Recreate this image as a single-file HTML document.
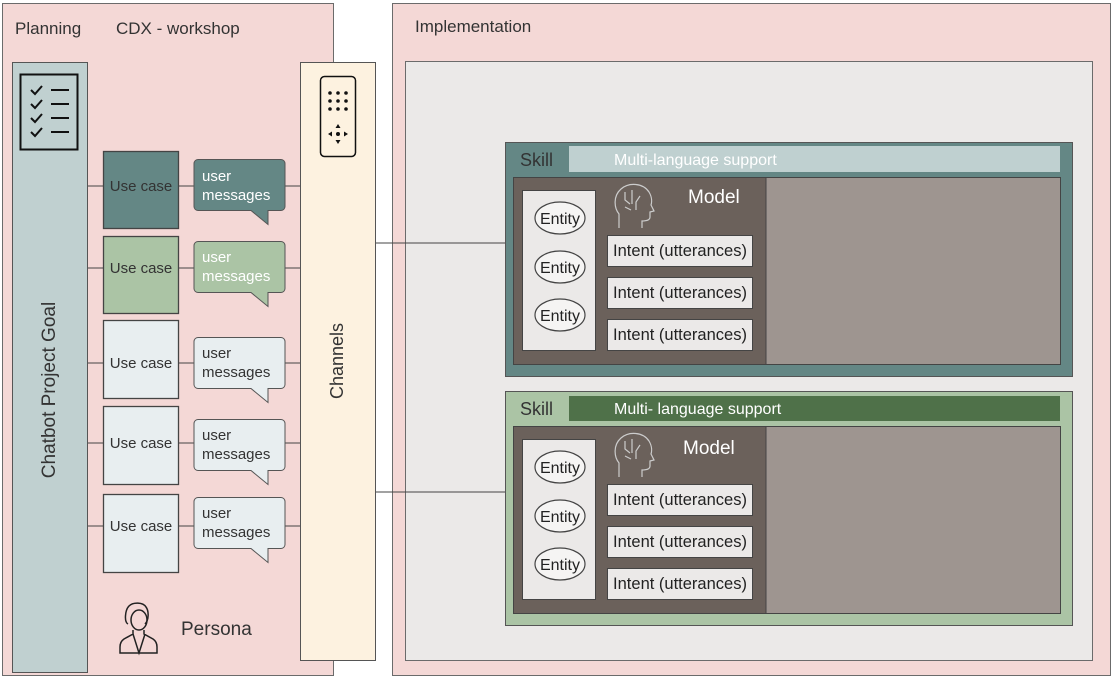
<!DOCTYPE html>
<html><head><meta charset="utf-8"><style>
html,body{margin:0;padding:0;background:#fff;}
svg{display:block;font-family:"Liberation Sans",sans-serif;}
</style></head><body>
<svg width="1116" height="679" viewBox="0 0 1116 679" xmlns="http://www.w3.org/2000/svg">
<rect x="2.5" y="3.5" width="331" height="672" fill="#f4d8d6" stroke="#6b6b6b"/>
<rect x="392.5" y="3.5" width="718" height="672" fill="#f4d8d6" stroke="#6b6b6b"/>
<rect x="405.5" y="61.5" width="687" height="599" fill="#ebe9e8" stroke="#6b6b6b"/>
<text x="15" y="34" font-size="17" fill="#333">Planning</text>
<text x="116" y="34" font-size="17" fill="#333">CDX - workshop</text>
<text x="415" y="32" font-size="17" fill="#333">Implementation</text>

<rect x="12.5" y="62.5" width="75" height="610" fill="#c0d0d0" stroke="#555"/>
<rect x="20.5" y="74.5" width="57" height="75" fill="#c0d0d0" stroke="#111" stroke-width="2"/>
<g stroke="#111" stroke-width="2" fill="none">
<path d="M31 90l4 4 7-8M31 104l4 4 7-8M31 118l4 4 7-8M31 132l4 4 7-8"/>
<path d="M51 90h18M51 104h18M51 118h18M51 132h18"/>
</g>
<text transform="translate(55 390) rotate(-90)" text-anchor="middle" font-size="19" fill="#333">Chatbot Project Goal</text>

<rect x="300.5" y="62.5" width="75" height="598" fill="#fdf2e0" stroke="#555"/>
<rect x="320.5" y="76.5" width="35" height="80" rx="4" fill="#fdf2e0" stroke="#111" stroke-width="1.5"/>
<g fill="#111">
<circle cx="330" cy="93" r="1.8"/><circle cx="338" cy="93" r="1.8"/><circle cx="346" cy="93" r="1.8"/>
<circle cx="330" cy="101" r="1.8"/><circle cx="338" cy="101" r="1.8"/><circle cx="346" cy="101" r="1.8"/>
<circle cx="330" cy="109" r="1.8"/><circle cx="338" cy="109" r="1.8"/><circle cx="346" cy="109" r="1.8"/>
<circle cx="338" cy="134" r="2"/>
<path d="M338 124l-2.5 4h5zM338 144l-2.5-4h5zM328 134l4-2.5v5zM348 134l-4-2.5v5z"/>
</g>
<text transform="translate(343 361) rotate(-90)" text-anchor="middle" font-size="18" fill="#333">Channels</text>

<g stroke="#444" stroke-width="1">
<path d="M88 186H103M179 186H194M285 186H300"/>
<path d="M88 268H103M179 268H194M285 268H300"/>
<path d="M88 363H103M179 363H194M285 363H300"/>
<path d="M88 443H103M179 443H194M285 443H300"/>
<path d="M88 526H103M179 526H194M285 526H300"/>
<path d="M376 243H513M376 492H513"/>
</g>
<g stroke="#444" stroke-width="1.3">
<rect x="103.5" y="151.5" width="75" height="77" fill="#648785"/>
<rect x="103.5" y="236.5" width="75" height="77" fill="#abc4a5"/>
<rect x="103.5" y="320.5" width="75" height="78" fill="#e8eef0"/>
<rect x="103.5" y="406.5" width="75" height="78" fill="#e8eef0"/>
<rect x="103.5" y="494.5" width="75" height="78" fill="#e8eef0"/>
</g>
<g font-size="15" fill="#333" text-anchor="middle">
<text x="141" y="191">Use case</text>
<text x="141" y="273">Use case</text>
<text x="141" y="368">Use case</text>
<text x="141" y="448">Use case</text>
<text x="141" y="531">Use case</text>
</g>
<g stroke="#555" stroke-width="1">
<path d="M198 159.5h83a4 4 0 0 1 4 4v43a4 4 0 0 1-4 4h-13v14l-17-14h-53a4 4 0 0 1-4-4v-43a4 4 0 0 1 4-4z" fill="#648785"/>
<path d="M198 241.5h83a4 4 0 0 1 4 4v43a4 4 0 0 1-4 4h-13v14l-17-14h-53a4 4 0 0 1-4-4v-43a4 4 0 0 1 4-4z" fill="#abc4a5"/>
<path d="M198 337.5h83a4 4 0 0 1 4 4v43a4 4 0 0 1-4 4h-13v14l-17-14h-53a4 4 0 0 1-4-4v-43a4 4 0 0 1 4-4z" fill="#e8eef0"/>
<path d="M198 419.5h83a4 4 0 0 1 4 4v43a4 4 0 0 1-4 4h-13v14l-17-14h-53a4 4 0 0 1-4-4v-43a4 4 0 0 1 4-4z" fill="#e8eef0"/>
<path d="M198 497.5h83a4 4 0 0 1 4 4v43a4 4 0 0 1-4 4h-13v14l-17-14h-53a4 4 0 0 1-4-4v-43a4 4 0 0 1 4-4z" fill="#e8eef0"/>
</g>
<g font-size="15">
<text x="202" y="181" fill="#fff">user</text><text x="202" y="200" fill="#fff">messages</text>
<text x="202" y="262" fill="#fff">user</text><text x="202" y="281" fill="#fff">messages</text>
<text x="202" y="358" fill="#333">user</text><text x="202" y="377" fill="#333">messages</text>
<text x="202" y="440" fill="#333">user</text><text x="202" y="459" fill="#333">messages</text>
<text x="202" y="518" fill="#333">user</text><text x="202" y="537" fill="#333">messages</text>
</g>

<g stroke="#222" stroke-width="1.5" fill="none">
<path d="M128 624c-4-2-3-14 1-18 4-4 14-4 17 1 3 4 3 13-1 17"/>
<ellipse cx="139" cy="620" rx="8" ry="10"/>
<path d="M133 630v4l-9 5c-3 2-4 5-4 8v6h37v-6c0-3-1-6-4-8l-9-5v-4"/>
<path d="M133 634l6 19 6-19"/>
</g>
<text x="181" y="635" font-size="19" fill="#333">Persona</text>

<rect x="505.5" y="142.5" width="567" height="234" fill="#648785" stroke="#555"/>
<text x="520" y="166" font-size="18" fill="#333">Skill</text>
<rect x="569" y="146" width="491" height="26" fill="#bfd0d0"/>
<text x="614" y="165" font-size="16" fill="#fff">Multi-language support</text>
<rect x="513.5" y="177.5" width="547" height="187" fill="#6b615b" stroke="#444"/>
<rect x="766" y="178" width="294" height="186" fill="#9e9590"/>
<line x1="766" y1="178" x2="766" y2="364" stroke="#444"/>
<text x="688" y="203" font-size="19" fill="#fff">Model</text>
<rect x="522.5" y="190.5" width="73" height="160" fill="#ebe9e8" stroke="#444"/>
<g fill="#f5f4f3" stroke="#444" stroke-width="1.2">
<ellipse cx="560" cy="218" rx="25" ry="16"/><ellipse cx="560" cy="267" rx="25" ry="16"/><ellipse cx="560" cy="315" rx="25" ry="16"/>
</g>
<g font-size="16" fill="#222" text-anchor="middle">
<text x="560" y="224">Entity</text><text x="560" y="273">Entity</text><text x="560" y="321">Entity</text>
</g>
<g fill="#ebe9e8" stroke="#444"><rect x="607.5" y="235.5" width="145" height="31"/><rect x="607.5" y="277.5" width="145" height="31"/><rect x="607.5" y="319.5" width="145" height="31"/></g>
<g font-size="16.5" fill="#222" text-anchor="middle"><text x="680" y="256">Intent (utterances)</text><text x="680" y="298">Intent (utterances)</text><text x="680" y="340">Intent (utterances)</text></g>
<g stroke="#ccc" stroke-width="1.2" fill="none">
<path d="M619 228v-14c-5-6-6-18 2-25 8-7 22-6 28 3 3 5 3 10 2 13l3 6-4 1v5c0 3-3 4-8 4v7"/>
<path d="M625 192v8l5 4M632 190v14M640 196l-4 6v8M625 207l6 3"/>
</g>

<rect x="505.5" y="391.5" width="567" height="234" fill="#abc4a5" stroke="#555"/>
<text x="520" y="415" font-size="18" fill="#333">Skill</text>
<rect x="569" y="396" width="491" height="25" fill="#4f7149"/>
<text x="614" y="414" font-size="16" fill="#fff">Multi- language support</text>
<rect x="513.5" y="426.5" width="547" height="187" fill="#6b615b" stroke="#444"/>
<rect x="766" y="427" width="294" height="186" fill="#9e9590"/>
<line x1="766" y1="427" x2="766" y2="613" stroke="#444"/>
<text x="683" y="454" font-size="19" fill="#fff">Model</text>
<rect x="522.5" y="439.5" width="73" height="160" fill="#ebe9e8" stroke="#444"/>
<g fill="#f5f4f3" stroke="#444" stroke-width="1.2">
<ellipse cx="560" cy="467" rx="25" ry="16"/><ellipse cx="560" cy="516" rx="25" ry="16"/><ellipse cx="560" cy="564" rx="25" ry="16"/>
</g>
<g font-size="16" fill="#222" text-anchor="middle">
<text x="560" y="473">Entity</text><text x="560" y="522">Entity</text><text x="560" y="570">Entity</text>
</g>
<g fill="#ebe9e8" stroke="#444"><rect x="607.5" y="484.5" width="145" height="31"/><rect x="607.5" y="526.5" width="145" height="31"/><rect x="607.5" y="568.5" width="145" height="31"/></g>
<g font-size="16.5" fill="#222" text-anchor="middle"><text x="680" y="505">Intent (utterances)</text><text x="680" y="547">Intent (utterances)</text><text x="680" y="589">Intent (utterances)</text></g>
<g stroke="#ccc" stroke-width="1.2" fill="none">
<path d="M619 477v-14c-5-6-6-18 2-25 8-7 22-6 28 3 3 5 3 10 2 13l3 6-4 1v5c0 3-3 4-8 4v7"/>
<path d="M625 441v8l5 4M632 439v14M640 445l-4 6v8M625 456l6 3"/>
</g>
</svg>
</body></html>
